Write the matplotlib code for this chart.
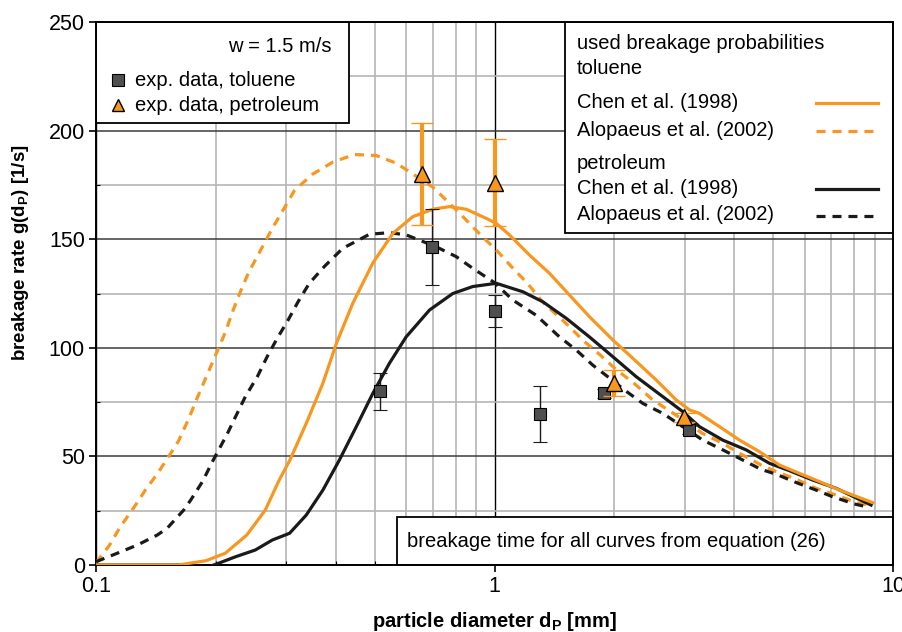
import matplotlib.pyplot as plt
import matplotlib.ticker as mticker
from matplotlib.patches import Rectangle
from matplotlib.lines import Line2D

plt.rcParams['font.family'] = ['Liberation Sans', 'DejaVu Sans']
plt.rcParams['mathtext.fontset'] = 'custom'
plt.rcParams['mathtext.rm'] = 'Liberation Sans'
plt.rcParams['mathtext.bf'] = 'Liberation Sans:bold'
plt.rcParams['lines.scale_dashes'] = False

ORANGE = '#f7971f'
GREY = '#4f4f4f'
FS = 14.5

# toluene, Chen et al. (1998)
tol_chen_d = [0.100, 0.161, 0.189, 0.211, 0.239, 0.266, 0.288, 0.306, 0.337, 0.371, 0.401,
              0.441, 0.495, 0.556, 0.624, 0.700, 0.771, 0.849, 0.953, 1.01, 1.09, 1.224,
              1.374, 1.542, 1.731, 1.981, 2.223, 2.545, 2.857, 3.085, 3.268, 3.669, 4.12,
              4.62, 5.19, 5.82, 6.54, 7.34, 8.9]
tol_chen_g = [0, 0, 2, 5.4, 13.8, 25.3, 39, 48, 65.2, 83.7, 102,
              120.5, 139, 152.7, 160.4, 163.8, 165, 163.8, 159.6, 157.3, 152, 142.7,
              134.3, 124.3, 114.3, 103.6, 95.2, 85.2, 76, 71.4, 69.8, 63.7, 57.5,
              52.2, 46, 42.2, 38.4, 34.5, 28.7]

# toluene, Alopaeus et al. (2002)
tol_alo_d = [0.100, 0.108, 0.115, 0.124, 0.133, 0.1425, 0.151, 0.161, 0.171, 0.1795, 0.190,
             0.201, 0.211, 0.220, 0.2305, 0.242, 0.259, 0.277, 0.296, 0.315, 0.350, 0.393,
             0.445, 0.505, 0.567, 0.661, 0.700, 0.817, 0.900, 1.029, 1.101, 1.212, 1.322,
             1.527, 1.666, 1.834, 2.019, 2.245, 2.495, 2.802, 3.332, 3.74, 4.16, 4.67,
             5.09, 5.71, 6.41, 7.2, 8.09, 8.73]
tol_alo_g = [1, 9, 17.5, 26, 34.5, 42, 49, 57, 67.5, 77, 87.5,
             98, 107, 116.5, 126, 135, 145, 155, 164, 172.5, 180, 185.5,
             189, 188.5, 185, 177, 174, 162, 154, 143.5, 137.5, 129.5, 121,
             110.5, 103.5, 97, 90, 83.5, 76, 70, 60.5, 56, 51, 46,
             43, 39.5, 35.3, 32.2, 28.7, 27.5]

# petroleum, Chen et al. (1998)
pet_chen_d = [0.100, 0.161, 0.178, 0.192, 0.203, 0.224, 0.251, 0.277, 0.306, 0.337, 0.371,
              0.408, 0.450, 0.495, 0.545, 0.600, 0.687, 0.786, 0.882, 1.01, 1.178, 1.322,
              1.513, 1.731, 1.981, 2.268, 2.645, 2.968, 3.268, 3.74, 4.28, 4.9, 5.5,
              6.29, 7.2, 8.81]
pet_chen_g = [0, 0, -0.5, -0.8, 0.8, 3.8, 6.9, 11.5, 14.6, 23, 34.5,
              48.3, 63.7, 79, 92.9, 105, 117.4, 125, 128.2, 129.7, 125.8, 121.2,
              113.6, 105, 95.9, 86.7, 77.5, 70.6, 63.7, 57.5, 53, 46.8, 43.4,
              39.1, 35.3, 27.6]

# petroleum, Alopaeus et al. (2002)
pet_alo_d = [0.100, 0.113, 0.127, 0.1425, 0.151, 0.166, 0.173, 0.185, 0.196, 0.201, 0.213,
             0.224, 0.237, 0.254, 0.269, 0.285, 0.3035, 0.321, 0.343, 0.374, 0.416, 0.486,
             0.545, 0.600, 0.714, 0.801, 0.882, 1.0, 1.111, 1.272, 1.456, 1.603, 1.765,
             1.924, 2.14, 2.356, 2.645, 3.332, 3.74, 4.2, 4.67, 5.09, 5.71, 6.41,
             7.06, 8.0, 8.73]
pet_alo_g = [1.5, 5.4, 9.2, 13.8, 17, 25.3, 30, 38.4, 47.6, 51.4, 60,
             68.3, 77.5, 86.7, 96, 104.4, 112.8, 121, 129.7, 137.4, 145.8, 152.3,
             153, 152, 146.5, 142, 136.6, 130, 122, 115, 105, 99, 92,
             86.7, 80, 74.4, 69.8, 57.5, 53, 48.3, 44, 41.8, 38, 34.5,
             31.4, 28.1, 26.5]

# experimental data
tol_exp_d = [0.517, 0.698, 1.0, 1.297, 1.88, 3.07]
tol_exp_g = [80, 146.5, 117, 69.4, 79, 62.2]
tol_exp_err = [8.5, 17.5, 7.5, 12.8, 2, 2]

pet_exp_d = [0.658, 1.0, 2.0, 2.99]
pet_exp_g = [180, 176, 84, 68]
pet_exp_err = [23.5, 20, 6, 2]

fig = plt.figure(figsize=(9.02, 6.32), dpi=100)
ax = fig.add_axes([96 / 902, 67 / 632, 797 / 902, 543 / 632])

ax.set_xscale('log')
ax.set_xlim(0.1, 10)
ax.set_ylim(0, 250)
ax.xaxis.set_major_locator(mticker.LogLocator(base=10))
ax.xaxis.set_minor_locator(mticker.LogLocator(base=10, subs=range(2, 10)))
ax.xaxis.set_minor_formatter(mticker.NullFormatter())
ax.xaxis.set_major_formatter(mticker.FuncFormatter(lambda v, p: '%g' % v))
ax.yaxis.set_major_locator(mticker.MultipleLocator(50))
ax.yaxis.set_minor_locator(mticker.MultipleLocator(25))

ax.set_axisbelow(True)
ax.grid(which='minor', color='#b5b5b5', lw=1.2)
ax.grid(which='major', axis='y', color='#3c3c3c', lw=1.1)
ax.grid(which='major', axis='x', color='black', lw=1.0)

for s in ax.spines.values():
    s.set_linewidth(1.4)
ax.tick_params(which='major', direction='out', length=5, width=1.2, labelsize=15.5, pad=3)
ax.tick_params(which='minor', direction='in', length=3, width=0.8)

ax.set_xlabel(r'particle diameter d$_\mathbf{P}$ [mm]', fontsize=FS, fontweight='bold')
ax.set_ylabel(r'breakage rate g(d$_\mathbf{P}$) [1/s]', fontsize=13.5, fontweight='bold')
ax.xaxis.set_label_coords(0.5, -0.083)
ax.yaxis.set_label_coords(-0.081, 0.575)

# curves
ax.plot(tol_alo_d, tol_alo_g, color=ORANGE, lw=2.3, dashes=(6.5, 5), zorder=3)
ax.plot(pet_alo_d, pet_alo_g, color='#1a1a1a', lw=2.3, dashes=(6.5, 5), zorder=3)
ax.plot(pet_chen_d, pet_chen_g, color='#1a1a1a', lw=2.3, zorder=3)
ax.plot(tol_chen_d, tol_chen_g, color=ORANGE, lw=2.3, zorder=3)

# experimental points
ax.errorbar(tol_exp_d, tol_exp_g, yerr=tol_exp_err, fmt='s', ms=9, mfc=GREY, mec='black',
            mew=0.8, ecolor='#1a1a1a', elinewidth=1, capsize=5, capthick=1, zorder=5)
ax.errorbar(pet_exp_d, pet_exp_g, yerr=pet_exp_err, fmt='^', ms=11, mfc=ORANGE, mec='black',
            mew=1, ecolor=ORANGE, elinewidth=3, capsize=8, capthick=3, zorder=6)

# box 1 (top left)
ax.add_patch(Rectangle((0, 0.814), 0.3174, 0.186, transform=ax.transAxes,
                       facecolor='white', edgecolor='black', lw=1.3, zorder=2))
ax.text(0.295, 0.954, 'w = 1.5 m/s', transform=ax.transAxes, ha='right', va='center', fontsize=FS)
ax.plot([0.0276], [0.893], 's', ms=8, mfc=GREY, mec='black', mew=0.8, transform=ax.transAxes, zorder=3)
ax.plot([0.0276], [0.847], '^', ms=9, mfc=ORANGE, mec='black', mew=1, transform=ax.transAxes, zorder=3)
ax.text(0.049, 0.893, 'exp. data, toluene', transform=ax.transAxes, va='center', fontsize=FS)
ax.text(0.049, 0.847, 'exp. data, petroleum', transform=ax.transAxes, va='center', fontsize=FS)

# box 2 (top right)
ax.add_patch(Rectangle((0.5885, 0.6114), 0.4115, 0.3886, transform=ax.transAxes,
                       facecolor='white', edgecolor='black', lw=1.3, zorder=2))
labels2 = [('used breakage probabilities', 0.9595), ('toluene', 0.915),
           ('Chen et al. (1998)', 0.851), ('Alopaeus et al. (2002)', 0.801),
           ('petroleum', 0.740), ('Chen et al. (1998)', 0.694),
           ('Alopaeus et al. (2002)', 0.6446)]
for txt, yy in labels2:
    ax.text(0.6035, yy, txt, transform=ax.transAxes, va='center', fontsize=FS, zorder=3)
samples = [(ORANGE, None, 0.851), (ORANGE, (6.5, 5), 0.799),
           ('#1a1a1a', None, 0.692), ('#1a1a1a', (6.5, 5), 0.643)]
for col, ds, yy in samples:
    ln = Line2D([0.903, 0.981], [yy, yy], color=col, lw=2.3, transform=ax.transAxes, zorder=3)
    if ds:
        ln.set_dashes(ds)
    ax.add_line(ln)

# box 3 (bottom right)
ax.add_patch(Rectangle((0.3777, 0), 0.6223, 0.0884, transform=ax.transAxes,
                       facecolor='white', edgecolor='black', lw=1.3, zorder=2))
ax.text(0.390, 0.044, 'breakage time for all curves from equation (26)', transform=ax.transAxes,
        va='center', fontsize=FS, zorder=3)

fig.savefig('out.png', dpi=100)
